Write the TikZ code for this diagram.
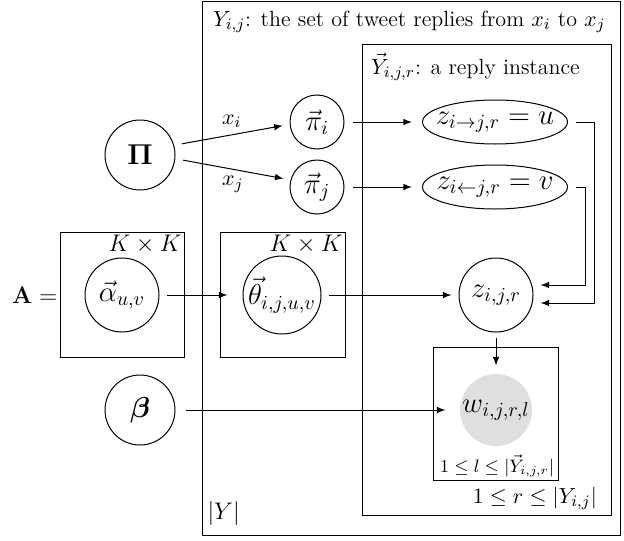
\documentclass[tikz,border=0pt]{standalone}
\usepackage{amsmath,amssymb,bm}
\usetikzlibrary{shapes.geometric}

\tikzset{
    latent/.style={draw, circle, inner sep=0pt},
    obs/.style={circle, fill=gray!25, inner sep=0pt},
    plate/.style={draw},
}

\begin{document}
\begin{tikzpicture}[>=latex, line width=0.5pt, x=0.5pt, y=-0.5pt, font=\fontsize{11pt}{13pt}\selectfont]
    \useasboundingbox (0,0) rectangle (624,540);

    % Plates
    \draw[plate] (202,2) rectangle (620,535);
    \draw[plate] (362,45) rectangle (611,515);
    \draw[plate] (60,232) rectangle (184,357);
    \draw[plate] (220,232) rectangle (345,357);
    \draw[plate] (433,347) rectangle (558,480);

    % Plate labels
    \node[anchor=west] (ylab) at (206,22) {$Y_{i,j}$: the set of tweet replies from $x_i$ to $x_j$};
    \node[anchor=west] (yrlab) at (364,67) {$\vec{Y}_{i,j,r}$: a reply instance};
    \node[anchor=north east, inner sep=1pt] (kk1) at (184,233) {\large $K\times K$};
    \node[anchor=north east, inner sep=1pt] (kk2) at (345,233) {\large $K\times K$};
    \node (llab) at (497,466) {\small $1\leq l\leq |\vec{Y}_{i,j,r}|$};
    \node[anchor=east] (rlab) at (604,498) {$1\leq r\leq |Y_{i,j}|$};
    \node[anchor=west, inner sep=1pt] (ylab2) at (205,513) {\large $|Y|$};
    \node[anchor=east, inner sep=1pt] (alab) at (60,295) {\large $\mathbf{A}=$};

    % Nodes
    \node[latent, minimum size=35pt] (Pi) at (140,155) {\Large $\mathbf{\Pi}$};
    \node[latent, minimum size=35pt] (beta) at (140,410) {\Large $\boldsymbol{\beta}$};
    \node[latent, minimum size=27pt] (pii) at (317,122) {\Large $\vec{\pi}_i$};
    \node[latent, minimum size=27pt] (pij) at (317,187) {\Large $\vec{\pi}_j$};
    \node[latent, ellipse, minimum width=72.5pt, minimum height=22pt, label=center:{\Large $z_{i\rightarrow j,r}=u$}] (zu) at (495,122) {};
    \node[latent, ellipse, minimum width=72.5pt, minimum height=22pt, label=center:{\Large $z_{i\leftarrow j,r}=v$}] (zv) at (495,187) {};
    \node[latent, minimum size=37pt] (zijr) at (496,295) {\Large $z_{i,j,r}$};
    \node[latent, minimum size=37pt] (alpha) at (122,295) {\Large $\vec{\alpha}_{u,v}$};
    \node[latent, minimum size=39pt, label=center:{\Large $\vec{\theta}_{i,j,u,v}$}] (theta) at (282,295) {};
    \node[obs, minimum size=36pt, label=center:{\Large $w_{i,j,r,l}$}] (w) at (496,410) {};

    % Edges
    \draw[->, shorten <=4pt, shorten >=3.5pt] (Pi.16) -- (pii.185) node[midway, above] {$x_i$};
    \draw[->, shorten <=4pt, shorten >=3.5pt] (Pi.-6) -- (pij.165) node[midway, below] {$x_j$};
    \draw[->, shorten <=4pt, shorten >=5pt] (pii) -- (zu);
    \draw[->, shorten <=4pt, shorten >=5pt] (pij) -- (zv);
    \draw[->] ([xshift=4pt]zu.east) -- ++(18,0) |- ([xshift=3.5pt, yshift=-4pt]zijr.east);
    \draw[->] ([xshift=4pt]zv.east) -- ++(9,0) |- ([xshift=3.5pt, yshift=5pt]zijr.east);
    \draw[->, shorten <=3.5pt, shorten >=7.5pt] (alpha) -- (theta);
    \draw[->, shorten <=3.5pt, shorten >=3.5pt] (theta) -- (zijr);
    \draw[->, shorten <=2.5pt, shorten >=4pt] (zijr) -- (w);
    \draw[->, shorten <=5pt, shorten >=7pt] (beta) -- (w);
\end{tikzpicture}
\end{document}
